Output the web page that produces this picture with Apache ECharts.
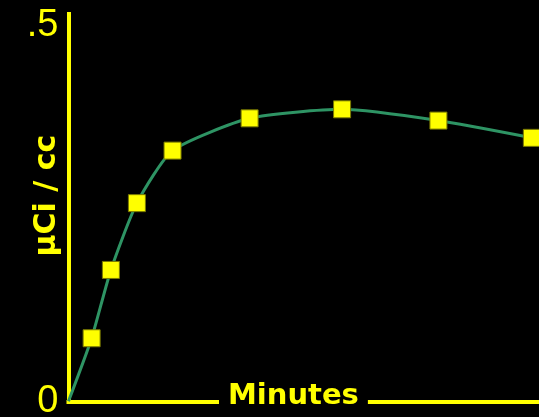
<!DOCTYPE html>
<html>
<head>
<meta charset="utf-8">
<style>
  html, body { margin: 0; padding: 0; background: #000; }
  #chart { width: 539px; height: 417px; }
</style>
<script src="https://cdn.jsdelivr.net/npm/echarts@6/dist/echarts.min.js"></script>
</head>
<body>
<div id="chart"></div>
<script>
// Uptake curve: activity concentration (µCi/cc) against time (minutes)
const minutes  = [0, 1.2, 2.2, 3.55, 5.4, 9.4, 14.2, 19.2, 24.05];
const activity = [0, 0.084, 0.175, 0.264, 0.334, 0.377, 0.389, 0.374, 0.351];
const yTickLabels = { 0: '0', 0.5: '.5' };
const xTitle = 'Minutes';
const yTitle = 'µCi / cc';

const YELLOW = '#ffff00';
const GREEN = '#2e9464';

const seriesData = minutes.map((m, i) =>
  i === 0 ? { value: [m, activity[i]], symbol: 'none' } : [m, activity[i]]
);

const chart = echarts.init(document.getElementById('chart'), null, { renderer: 'canvas' });
chart.setOption({
  backgroundColor: '#000',
  animation: false,
  grid: {
    left: 68.5, right: 0, top: 14, bottom: 15.7,
    containLabel: false,
    outerBoundsMode: 'none'
  },
  // x-axis title sits on the axis line, breaking it with a black box
  graphic: [{
    type: 'text',
    x: 219,
    y: 379,
    z: 100,
    style: {
      text: xTitle,
      fill: YELLOW,
      font: 'bold 29px "DejaVu Sans"',
      backgroundColor: '#000',
      padding: [3, 9, 3, 9],
      verticalAlign: 'top',
      align: 'left'
    }
  }],
  xAxis: {
    type: 'value',
    min: 0,
    max: 24.42,
    axisLine: { lineStyle: { color: YELLOW, width: 4, cap: 'square' } },
    axisTick: { show: false },
    axisLabel: { show: false },
    splitLine: { show: false }
  },
  yAxis: {
    type: 'value',
    min: 0,
    max: 0.516,
    interval: 0.5,
    name: yTitle,
    nameLocation: 'middle',
    nameGap: 6,
    nameMoveOverlap: false,
    nameTextStyle: {
      color: YELLOW,
      fontFamily: 'DejaVu Sans',
      fontWeight: 'bold',
      fontSize: 30,
      padding: [0, 0, 0, 24]
    },
    axisLine: { lineStyle: { color: YELLOW, width: 4, cap: 'square' } },
    axisTick: { show: false },
    splitLine: { show: false },
    axisLabel: {
      color: YELLOW,
      fontFamily: 'Liberation Sans',
      fontSize: 38,
      margin: 10,
      padding: [0, 0, 12, 0],
      showMaxLabel: false,
      formatter: v => (yTickLabels[v] !== undefined ? yTickLabels[v] : '')
    }
  },
  series: [{
    type: 'line',
    data: seriesData,
    smooth: 0.2,
    clip: false,
    lineStyle: { color: GREEN, width: 3 },
    symbol: 'rect',
    symbolSize: 17,
    itemStyle: { color: YELLOW, borderColor: '#7a7a00', borderWidth: 1 }
  }]
});
</script>
</body>
</html>
